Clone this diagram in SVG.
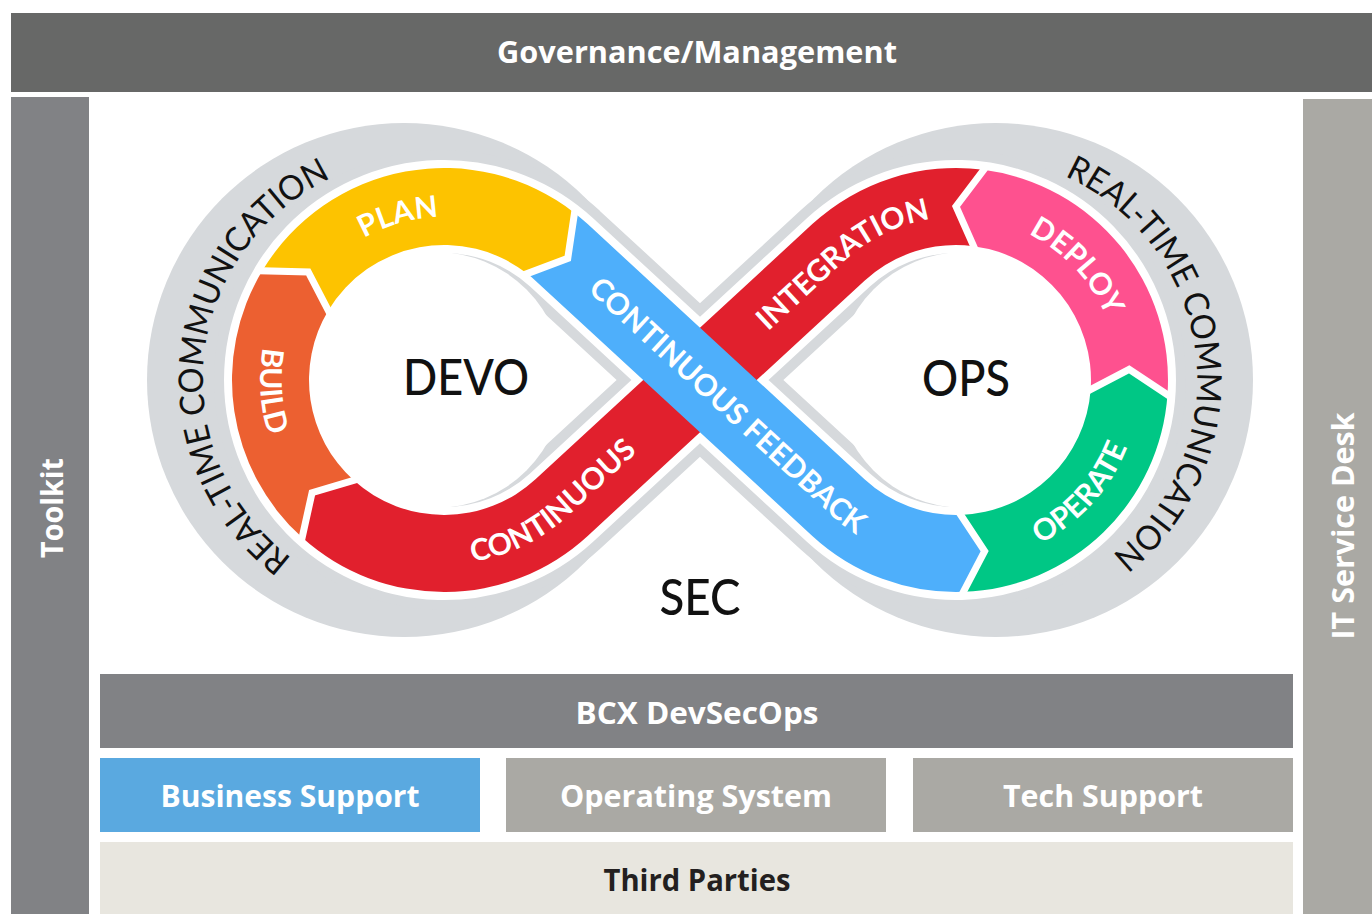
<svg xmlns="http://www.w3.org/2000/svg" width="1372" height="914" viewBox="0 0 1372 914">
<style>
.bt{font-family:"Open Sans","Liberation Sans",sans-serif;font-weight:700;font-size:30px;fill:#fff;text-anchor:middle}
.lbl{font-family:Lato,"Liberation Sans",sans-serif;font-weight:700;font-size:30px;fill:#fff;text-anchor:middle}
.rtc{font-family:Lato,"Liberation Sans",sans-serif;font-weight:400;font-size:34px;fill:#111}
.big{font-family:Lato,"Liberation Sans",sans-serif;font-weight:500;font-size:51px;fill:#111;text-anchor:middle}
.gray{fill:#d6d9dc}
.gap{fill:none;stroke:#fff;stroke-width:7;stroke-linejoin:miter;stroke-linecap:square}
</style>
<defs>
<path id="loopP" d="M561.59,252.42 L838.41,507.58 A173.5,173.5 0 1 0 838.41,252.42 L561.59,507.58 A173.5,173.5 0 1 1 561.59,252.42 Z"/>
<path id="rtcL" d="M291.79,558.10 A223,223 0 0 1 335.30,176.28"/>
<path id="rtcR" d="M1064.70,176.28 A223,223 0 0 1 1108.21,558.10"/>
<path id="pPlan" d="M295.44,312.92 A163,163 0 0 1 535.86,245.35"/>
<path id="pBuild" d="M316.96,246.90 A184,184 0 0 0 335.07,528.29"/>
<path id="pCont" d="M352,539.35 A184,184 0 0 0 568.70,515.30 L679,413.64"/>
<path id="pInteg" d="M698.47,395.69 L845.53,260.14 A163,163 0 0 1 1037.5,238.84"/>
<path id="pCFB" d="M499.75,226.83 A163,163 0 0 1 554.47,260.14 L831.30,515.30 A184,184 0 0 0 924.05,561.20"/>
<path id="pDeploy" d="M946.62,217.27 A163,163 0 0 1 1117.89,399.02"/>
<path id="pOperate" d="M949.26,563.88 A184,184 0 0 0 1138.25,354.71"/>
</defs>
<rect width="1372" height="914" fill="#fff"/>

<g id="governance">
<rect x="11" y="13" width="1361" height="79" fill="#676867"/>
<text class="bt" x="697" y="63" textLength="400" lengthAdjust="spacingAndGlyphs">Governance/Management</text>
</g>
<g id="toolkit">
<rect x="11" y="97" width="78" height="817" fill="#818285"/>
<text class="bt" transform="translate(63,508) rotate(-90)" textLength="100" lengthAdjust="spacingAndGlyphs">Toolkit</text>
</g>
<g id="it-service-desk">
<rect x="1303" y="99" width="69" height="815" fill="#aaa9a4"/>
<text class="bt" transform="translate(1354,526) rotate(-90)" textLength="227" lengthAdjust="spacingAndGlyphs">IT Service Desk</text>
</g>
<g id="bcx-devsecops">
<rect x="100" y="674" width="1193" height="74" fill="#818285"/>
<text class="bt" x="697" y="724" textLength="243" lengthAdjust="spacingAndGlyphs">BCX DevSecOps</text>
</g>
<g id="business-support">
<rect x="100" y="758" width="380" height="74" fill="#5aa9e0"/>
<text class="bt" x="290" y="807" textLength="259" lengthAdjust="spacingAndGlyphs">Business Support</text>
</g>
<g id="operating-system">
<rect x="506" y="758" width="380" height="74" fill="#aaa9a4"/>
<text class="bt" x="696" y="807" textLength="272" lengthAdjust="spacingAndGlyphs">Operating System</text>
</g>
<g id="tech-support">
<rect x="913" y="758" width="380" height="74" fill="#aaa9a4"/>
<text class="bt" x="1103" y="807" textLength="200" lengthAdjust="spacingAndGlyphs">Tech Support</text>
</g>
<g id="third-parties">
<rect x="100" y="842" width="1193" height="72" fill="#e8e6df"/>
<text class="bt" x="697" y="891" style="fill:#231f20" textLength="187" lengthAdjust="spacingAndGlyphs">Third Parties</text>
</g>

<g id="loop-outline">
<circle class="gray" cx="404" cy="380" r="257"/>
<circle class="gray" cx="996" cy="380" r="257"/>
<use href="#loopP" fill="none" stroke="#d6d9dc" stroke-width="113"/>
<path d="M523.29,293.97 L616.63,380 L523.29,466.03 A117,117 0 1 1 523.29,293.97 Z" fill="#fff"/>
<path d="M876.71,293.97 L783.37,380 L876.71,466.03 A117,117 0 1 0 876.71,293.97 Z" fill="#fff"/>
<use href="#loopP" fill="none" stroke="#fff" stroke-width="93"/>
<circle cx="436" cy="380" r="128" fill="#fff"/>
<circle cx="964" cy="380" r="128" fill="#fff"/>
</g>

<g id="real-time-communication-left">
<text class="rtc"><textPath href="#rtcL" textLength="458" lengthAdjust="spacingAndGlyphs">REAL-TIME COMMUNICATION</textPath></text>
</g>
<g id="real-time-communication-right">
<text class="rtc"><textPath href="#rtcR" textLength="458" lengthAdjust="spacingAndGlyphs">REAL-TIME COMMUNICATION</textPath></text>
</g>

<g id="continuous-integration">
<path fill="#e1202d" d="M983.67,169.81 A212,212 0 0 0 812.32,224.11 L535.49,479.27 A135,135 0 0 1 353.67,480.32 L312.07,492.68 L302.14,537.55 A212,212 0 0 0 587.68,535.89 L864.51,280.73 A135,135 0 0 1 973.62,246.16 L956,206.5 Z"/>
<text class="lbl"><textPath href="#pCont" startOffset="226">CONTINUOUS</textPath></text>
<text class="lbl"><textPath href="#pInteg" startOffset="195">INTEGRATION</textPath></text>
</g>
<g id="build">
<path fill="#ec6031" d="M302.14,537.55 A212,212 0 0 1 262.28,270.81 L308.22,271.99 L328.28,310.47 A135,135 0 0 0 353.67,480.32 L312.07,492.68 Z"/>
<text class="lbl"><textPath href="#pBuild" startOffset="50%">BUILD</textPath></text>
</g>
<g id="plan">
<path fill="#fdc300" d="M262.28,270.81 A212,212 0 0 1 574.52,212.94 L567.75,258.39 L527.11,273.62 A135,135 0 0 0 328.28,310.47 L308.22,271.99 Z"/>
<text class="lbl"><textPath href="#pPlan" startOffset="50%">PLAN</textPath></text>
</g>
<g id="deploy">
<path fill="#fe518f" d="M1167.48,394.79 A212,212 0 0 0 983.67,169.81 L956,206.5 L973.62,246.16 A135,135 0 0 1 1090.67,389.42 L1129.17,369.41 Z"/>
<text class="lbl"><textPath href="#pDeploy" startOffset="50%">DEPLOY</textPath></text>
</g>
<g id="operate">
<path fill="#00c785" d="M963.40,591.87 A212,212 0 0 0 1167.48,394.79 L1129.17,369.41 L1090.67,389.42 A135,135 0 0 1 960.71,514.92 L984.64,551.12 Z"/>
<text class="lbl"><textPath href="#pOperate" startOffset="50%">OPERATE</textPath></text>
</g>
<g id="continuous-feedback">
<path fill="#4eaffb" d="M574.52,212.94 A212,212 0 0 1 587.68,224.11 L864.51,479.27 A135,135 0 0 0 960.71,514.92 L984.64,551.12 L963.40,591.87 A212,212 0 0 1 812.32,535.89 L535.49,280.73 A135,135 0 0 0 527.11,273.62 L567.75,258.39 Z"/>
<text class="lbl"><textPath href="#pCFB" startOffset="291">CONTINUOUS FEEDBACK</textPath></text>
</g>

<g id="dividers">
<path class="gap" d="M302.14,537.55 L312.07,492.68 L353.67,480.32"/>
<path class="gap" d="M262.28,270.81 L308.22,271.99 L328.28,310.47"/>
<path class="gap" d="M574.52,212.94 L567.75,258.39 L527.11,273.62"/>
<path class="gap" d="M963.40,591.87 L984.64,551.12 L960.71,514.92"/>
<path class="gap" d="M1167.48,394.79 L1129.17,369.41 L1090.67,389.42"/>
<path class="gap" d="M983.67,169.81 L956,206.5 L973.62,246.16"/>
</g>

<g id="devo"><text class="big" x="466" y="395" textLength="126" lengthAdjust="spacingAndGlyphs">DEVO</text></g>
<g id="ops"><text class="big" x="966" y="396" textLength="88" lengthAdjust="spacingAndGlyphs">OPS</text></g>
<g id="sec"><text class="big" x="700" y="615" textLength="81" lengthAdjust="spacingAndGlyphs">SEC</text></g>
</svg>
